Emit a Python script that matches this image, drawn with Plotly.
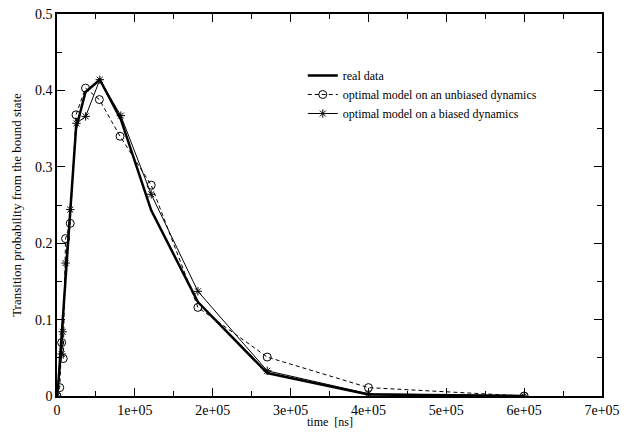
import plotly.graph_objects as go

# real data (thick line)
real_t = [0, 2000, 5000, 10000, 16000, 24400, 36600, 55000, 82000, 121000, 181000, 270000, 400000, 600000]
real_p = [0.0, 0.02, 0.065, 0.14, 0.225, 0.35, 0.398, 0.414, 0.362, 0.243, 0.123, 0.030, 0.002, 0.0]

# optimal model on an unbiased dynamics (circles, dashed)
unb_t = [0, 3500, 6000, 8000, 11000, 17000, 24400, 36600, 54400, 81000, 121000, 181000, 270000, 400000, 600000]
unb_p = [0.0, 0.011, 0.070, 0.049, 0.206, 0.226, 0.368, 0.403, 0.388, 0.340, 0.276, 0.116, 0.051, 0.011, 0.0]

# optimal model on a biased dynamics (stars, solid thin)
bia_t = [0, 6000, 7300, 11000, 17000, 25000, 36800, 55000, 82000, 121000, 181000, 270000, 400000, 600000]
bia_p = [0.0, 0.055, 0.084, 0.174, 0.244, 0.357, 0.366, 0.414, 0.367, 0.264, 0.137, 0.033, 0.003, 0.0]

x_tickvals = [0, 100000, 200000, 300000, 400000, 500000, 600000, 700000]
x_ticktext = ["0", "1e+05", "2e+05", "3e+05", "4e+05", "5e+05", "6e+05", "7e+05"]
y_tickvals = [0, 0.1, 0.2, 0.3, 0.4, 0.5]
y_ticktext = ["0", "0.1", "0.2", "0.3", "0.4", "0.5"]

font_family = "Times New Roman"

fig = go.Figure()
fig.add_trace(go.Scatter(x=real_t, y=real_p, mode="lines", name="real data",
                         line=dict(color="black", width=2.5)))
fig.add_trace(go.Scatter(x=unb_t, y=unb_p, mode="lines+markers",
                         name="optimal model on an unbiased dynamics",
                         line=dict(color="black", width=1, dash="4px,3px"),
                         marker=dict(symbol="circle-open", size=8, color="black", line=dict(width=1))))
fig.add_trace(go.Scatter(x=bia_t, y=bia_p, mode="lines+markers",
                         name="optimal model on a biased dynamics",
                         line=dict(color="black", width=1),
                         marker=dict(symbol="asterisk-open", size=7, color="black", line=dict(width=1, color="black"))))

axis_common = dict(showgrid=False, zeroline=False, showline=True, linecolor="black", linewidth=1.5,
                   mirror="allticks", ticks="inside", ticklen=8, tickwidth=1, tickcolor="black",
                   automargin=False, ticklabeloverflow="allow",
                   tickfont=dict(family=font_family, size=14, color="black"))

fig.update_xaxes(range=[0, 700000], tickvals=x_tickvals, ticktext=x_ticktext,
                 minor=dict(ticks="inside", ticklen=5, tickwidth=1, tickcolor="black", dtick=50000, tick0=0),
                 **axis_common)
fig.update_yaxes(range=[0, 0.5], tickvals=y_tickvals, ticktext=y_ticktext,
                 minor=dict(ticks="inside", ticklen=5, tickwidth=1, tickcolor="black", dtick=0.05, tick0=0),
                 title=dict(text="Transition probability from the bound state",
                            font=dict(family=font_family, size=13, color="black"), standoff=10),
                 **axis_common)

fig.add_annotation(text="time  [ns]", xref="paper", yref="paper", x=0.5, y=-0.068,
                   xanchor="center", yanchor="middle", showarrow=False,
                   font=dict(family=font_family, size=12, color="black"))

# page body has an 8px default margin, so the figure is offset by (8, 8)
fig.update_layout(
    width=627, height=424,
    margin=dict(l=49, r=33, t=6, b=36),
    paper_bgcolor="white", plot_bgcolor="white",
    showlegend=True,
    legend=dict(x=0.451, y=0.877, xanchor="left", yanchor="top", bgcolor="rgba(0,0,0,0)",
                font=dict(family=font_family, size=12, color="black"),
                itemwidth=30, tracegroupgap=0),
)

fig.write_html("out.html")
